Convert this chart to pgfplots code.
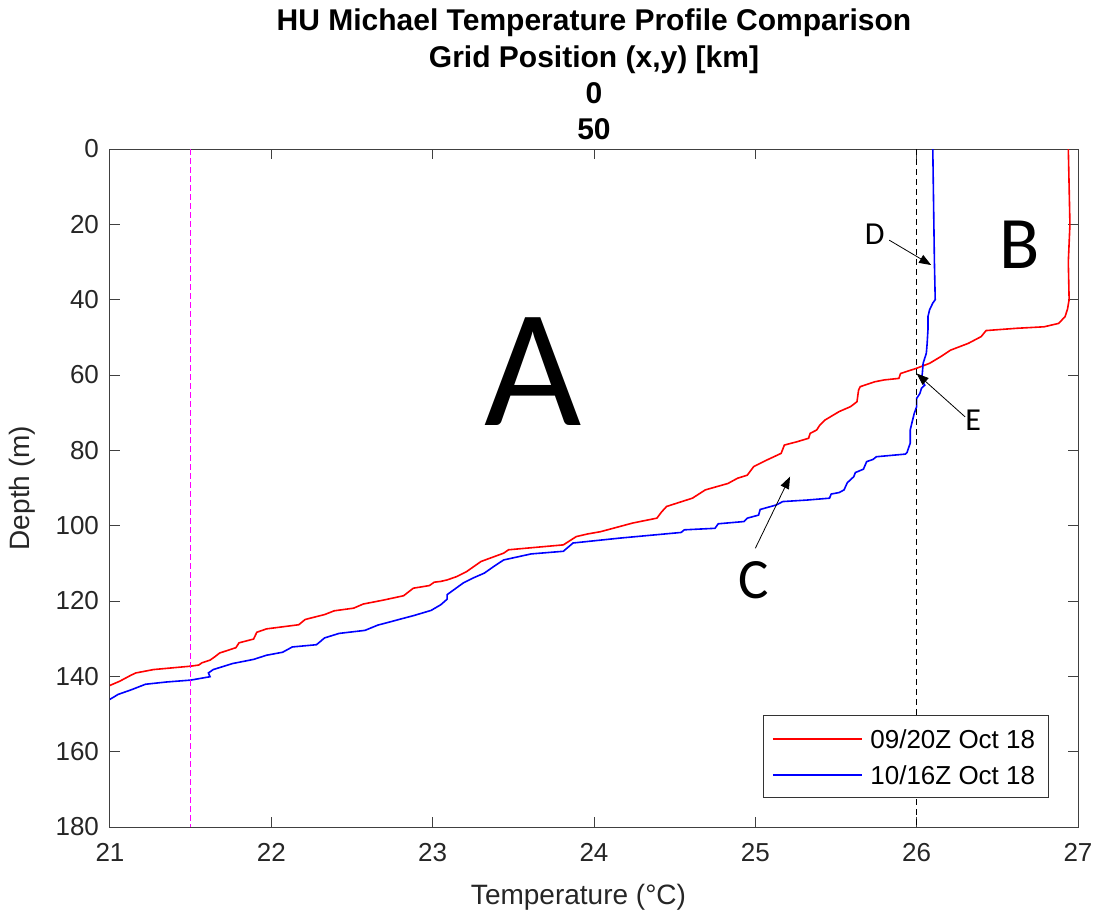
\documentclass[border=0pt]{standalone}
\usepackage{fontspec}
\setmainfont{Liberation Sans}
\newfontfamily\calfont{Carlito}
\usepackage{pgfplots}
\usepackage{pgfplotstable}
\pgfplotsset{compat=1.18}
\usetikzlibrary{arrows.meta}
\definecolor{mred}{rgb}{1,0,0}
\definecolor{mblue}{rgb}{0,0,1}
\definecolor{mmag}{rgb}{1,0,1}

\pgfplotstableread{
T D
26.94 0
26.945 10
26.95 20
26.94 30
26.945 40
26.935 42.5
26.92 44.5
26.88 46.3
26.79 47.2
26.62 47.6
26.43 48.2
26.40 49.8
26.32 51.6
26.21 53.4
26.15 55.1
26.08 56.9
26.00 58.2
25.90 59.6
25.89 60.9
25.80 61.3
25.74 61.8
25.65 63.1
25.64 64.0
25.63 67.1
25.59 68.4
25.52 69.7
25.43 72.0
25.40 73.3
25.38 74.6
25.34 75.5
25.33 76.8
25.26 77.7
25.18 78.6
25.16 80.8
25.07 82.6
24.99 84.3
24.95 86.6
24.89 87.4
24.83 88.8
24.69 90.5
24.61 92.7
24.45 94.9
24.42 96.3
24.39 98.0
24.24 99.3
24.04 101.6
23.96 102.2
23.89 102.9
23.81 105.1
23.47 106.4
23.44 107.3
23.30 109.5
23.21 112.2
23.15 113.5
23.09 114.4
23.05 114.8
23.01 115.0
22.98 115.9
22.88 116.6
22.82 118.6
22.69 119.8
22.57 120.8
22.51 121.9
22.39 122.6
22.33 123.6
22.21 124.9
22.17 126.3
21.97 127.4
21.91 128.3
21.89 130.1
21.80 131.1
21.78 132.4
21.68 133.8
21.65 134.8
21.62 135.7
21.57 136.4
21.55 137.0
21.50 137.3
21.27 138.2
21.16 139.1
21.13 139.7
21.06 141.3
21.00 142.4
20.95 143.5
}\redtab

\pgfplotstableread{
T D
26.10 0
26.105 15
26.11 30
26.115 40
26.10 40.9
26.08 42.7
26.07 44.5
26.07 48
26.065 51.6
26.06 54.2
26.04 56.9
26.035 59.6
26.03 61.3
26.05 62.7
26.03 63.5
26.02 64.9
26.00 66.2
26.00 68.4
25.985 70.2
25.97 72.8
25.96 74.6
25.96 78.1
25.94 80.6
25.93 81.0
25.75 81.7
25.73 82.4
25.69 83.0
25.67 85.0
25.62 85.9
25.61 87.0
25.57 88.6
25.55 90.5
25.52 91.2
25.47 91.6
25.46 92.7
25.32 93.2
25.17 93.6
25.13 94.5
25.03 95.7
25.02 97.2
24.95 98.0
24.93 98.9
24.77 99.5
24.75 100.7
24.56 101.1
24.54 101.8
24.16 103.3
23.87 104.6
23.81 106.8
23.61 107.5
23.44 109.1
23.38 110.8
23.32 112.6
23.25 113.9
23.19 115.2
23.09 118.3
23.09 119.5
23.05 121.0
22.99 122.5
22.88 123.9
22.80 124.8
22.74 125.5
22.66 126.4
22.58 127.8
22.42 128.6
22.33 129.8
22.28 131.6
22.13 132.2
22.07 133.6
21.97 134.4
21.89 135.5
21.76 136.6
21.64 138.2
21.61 139.1
21.62 140.1
21.50 141.0
21.35 141.5
21.22 142.1
21.13 143.6
21.05 144.8
21.00 146.1
20.95 147.0
}\bluetab

\begin{document}
\begin{tikzpicture}
\path[use as bounding box] (-55pt,-44pt) rectangle (493pt,413.5pt);
\begin{axis}[
  at={(0,0)}, anchor=south west,
  scale only axis, width=484pt, height=339pt,
  xmin=21, xmax=27, ymin=0, ymax=180, y dir=reverse,
  xtick={21,22,23,24,25,26,27}, ytick={0,20,40,60,80,100,120,140,160,180},
  tick align=inside, major tick length=5pt,
  xtick pos=both, ytick pos=both,
  xticklabel pos=lower, yticklabel pos=left,
  axis line style={black!75, line width=0.5pt},
  every tick/.style={black!75, line width=0.5pt},
  /pgf/number format/assume math mode=true,
  tick label style={font=\fontsize{13}{15}\selectfont, color=black!85},
  xticklabel style={yshift=-4.5pt},
  yticklabel style={xshift=-2pt},
  xlabel={Temperature (°C)},
  ylabel={Depth (m)},
  xlabel style={font=\fontsize{14}{16}\selectfont, color=black!85, at={(axis description cs:0.484,-0.1032)}, anchor=center},
  ylabel style={font=\fontsize{14}{16}\selectfont, color=black!85, at={(axis description cs:-0.0909,0.5)}, anchor=center},
  clip mode=individual,
]
\addplot[color=mred, line width=0.8pt] table[x=T,y=D] {\redtab};
\addplot[color=mblue, line width=0.8pt] table[x=T,y=D] {\bluetab};
\addplot[color=black, line width=0.7pt, dash pattern=on 3pt off 2pt] coordinates {(26,0) (26,180)};
\addplot[color=mmag, line width=0.7pt, dash pattern=on 3pt off 1.5pt] coordinates {(21.5,0) (21.5,180)};

% legend
\draw[draw=black!80, fill=white, line width=0.5pt] (axis description cs:0.6756,0.0442) rectangle (axis description cs:0.9700,0.1652);
\draw[mred, line width=0.8pt] (axis description cs:0.6849,0.1298) -- (axis description cs:0.7769,0.1298);
\draw[mblue, line width=0.8pt] (axis description cs:0.6849,0.0767) -- (axis description cs:0.7769,0.0767);
\node[anchor=west, inner sep=0pt, font=\fontsize{13}{15}\selectfont] at (axis description cs:0.7851,0.1298) {09/20Z Oct 18};
\node[anchor=west, inner sep=0pt, font=\fontsize{13}{15}\selectfont] at (axis description cs:0.7851,0.0767) {10/16Z Oct 18};

\node[font=\calfont\fontsize{84}{84}\selectfont] at (axis cs:23.62,59.2) {A};
\node[font=\calfont\fontsize{37}{37}\selectfont] at (axis cs:26.64,25.5) {B};
\node[font=\calfont\fontsize{28.5}{28.5}\selectfont] at (axis cs:24.99,114.4) {C};
\node[font=\calfont\fontsize{16}{16}\selectfont] at (axis cs:25.74,22.7) {D};
\node[font=\calfont\fontsize{16}{16}\selectfont] at (axis cs:26.35,72) {E};
\draw[-{Triangle[length=6pt,width=4.5pt]}, line width=0.4pt] (axis cs:25.83,24.2) -- (axis cs:26.09,30.8);
\draw[-{Triangle[length=6pt,width=4.5pt]}, line width=0.4pt] (axis cs:26.30,71.1) -- (axis cs:26.0,59.6);
\draw[-{Triangle[length=6pt,width=4.5pt]}, line width=0.4pt] (axis cs:25.0,106) -- (axis cs:25.215,87.0);

\node[anchor=base, yshift=5pt, font=\fontsize{15}{18}\selectfont\bfseries] at (axis description cs:0.5,1) {50};
\node[anchor=base, yshift=23pt, font=\fontsize{15}{18}\selectfont\bfseries] at (axis description cs:0.5,1) {0};
\node[anchor=base, yshift=41pt, font=\fontsize{15}{18}\selectfont\bfseries] at (axis description cs:0.5,1) {Grid Position (x,y) [km]};
\node[anchor=base, yshift=59pt, font=\fontsize{15}{18}\selectfont\bfseries] at (axis description cs:0.5,1) {HU Michael Temperature Profile Comparison};
\end{axis}
\end{tikzpicture}
\end{document}
